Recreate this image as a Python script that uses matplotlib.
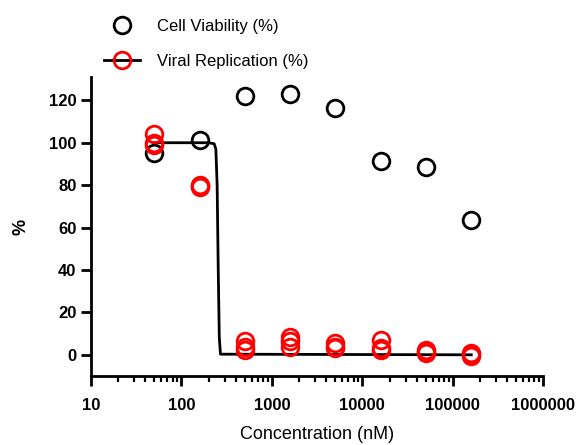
import matplotlib.pyplot as plt
from matplotlib.ticker import LogLocator, NullFormatter, FixedLocator

plt.rcParams['font.family'] = ['Liberation Sans', 'DejaVu Sans']

# concentrations (nM)
conc = [50, 160, 500, 1600, 5000, 16000, 50000, 160000]

# cell viability (%), one value per concentration
viability = [95, 101.5, 122, 123, 116.5, 91.5, 88.5, 63.5]

# viral replication (%), triplicates per concentration
replication = [
    [104, 100, 99],
    [80.3, 79.4, 79.0],
    [6.3, 3.9, 2.4],
    [8.6, 6.3, 3.9],
    [5.5, 3.9, 3.0],
    [7.0, 2.4, 3.0],
    [2.4, 1.0, 1.5],
    [0.8, -0.5, 0.3],
]

# fitted curve
fit_x = [50, 200, 230, 240, 248, 255, 262, 270, 160000]
fit_y = [100, 100, 99.5, 97, 80, 40, 8, 0.3, 0]

rep_x = [c for c, reps in zip(conc, replication) for _ in reps]
rep_y = [v for reps in replication for v in reps]

fig = plt.figure(figsize=(5.82, 4.45), dpi=100)
ax = fig.add_axes([0.1564, 0.155, 0.777, 0.672])

ax.plot(fit_x, fit_y, color='black', lw=2, zorder=2)
ax.plot(conc, viability, 'o', ms=12, mfc='none', mec='black', mew=2, zorder=3,
        label='Cell Viability (%)')
ax.plot(rep_x, rep_y, 'o', ms=12, mfc='none', mec='red', mew=2, zorder=4)
# legend handle: red circle on black line
ax.plot([], [], 'o-', color='black', ms=12, mfc='none', mec='red', mew=2, lw=2,
        label='Viral Replication (%)')

ax.set_xscale('log')
ax.set_xlim(10, 1000000)
ax.set_ylim(-10, 131)
ax.yaxis.set_major_locator(FixedLocator([0, 20, 40, 60, 80, 100, 120]))
ax.xaxis.set_major_locator(FixedLocator([10, 100, 1000, 10000, 100000, 1000000]))
ax.set_xticklabels(['10', '100', '1000', '10000', '100000', '1000000'])
ax.xaxis.set_minor_locator(LogLocator(base=10, subs=range(2, 10), numticks=20))
ax.xaxis.set_minor_formatter(NullFormatter())

for s in ['top', 'right']:
    ax.spines[s].set_visible(False)
for s in ['left', 'bottom']:
    ax.spines[s].set_linewidth(2)

ax.tick_params(which='major', direction='out', length=7, width=2, labelsize=12)
ax.tick_params(axis='x', which='major', pad=9)
ax.tick_params(axis='x', which='minor', direction='out', length=4, width=1.6)
for lab in ax.get_xticklabels() + ax.get_yticklabels():
    lab.set_fontweight('bold')

ax.set_xlabel('Concentration (nM)', fontsize=13, labelpad=9)
ax.set_ylabel('%', fontsize=13, fontweight='bold', labelpad=14)

fig.legend(loc='upper left', bbox_to_anchor=(0.178, 0.958), frameon=False,
           fontsize=12, handlelength=2.2, labelspacing=1.2, handletextpad=1.0,
           borderpad=0, borderaxespad=0)

fig.savefig('out.png', dpi=100)
